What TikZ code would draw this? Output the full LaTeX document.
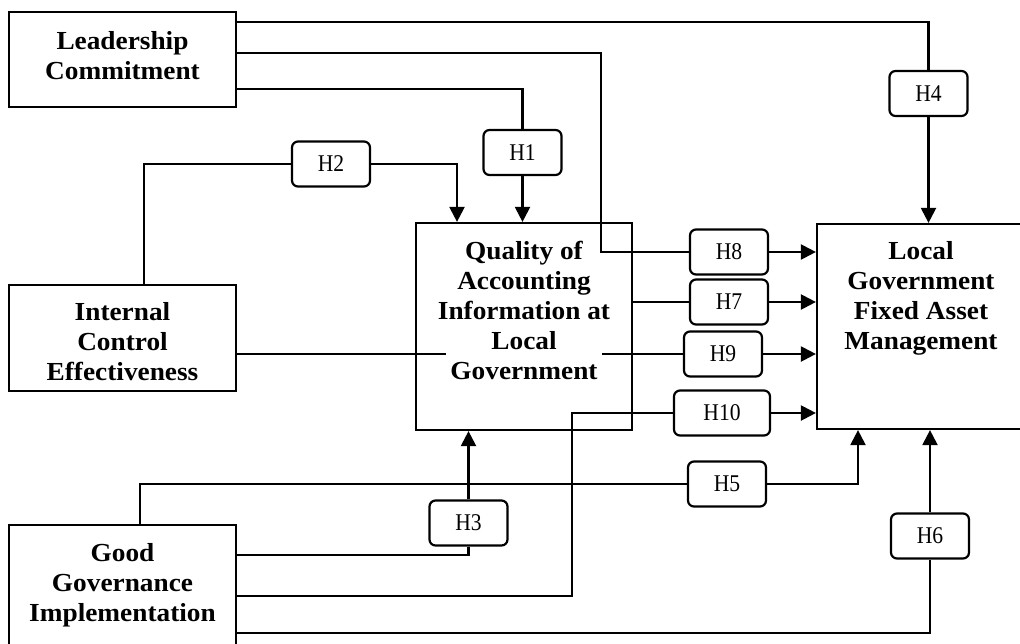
\documentclass[tikz,border=0pt]{standalone}
\usepackage{fontspec}
\setmainfont{Liberation Serif}
\newfontfamily\boxfont[FakeStretch=1.05]{Liberation Serif}
\newfontfamily\hypfont[FakeStretch=0.9]{Liberation Serif}
\usetikzlibrary{arrows.meta}
\begin{document}
\begin{tikzpicture}[x=1pt,y=-1pt,line width=2.2pt,
  varbox/.style={draw,inner sep=0pt},
  vartext/.style={align=center,inner sep=0pt,font=\boxfont\bfseries\fontsize{26}{30}\selectfont},
  hyp/.style={draw,rounded corners=6pt,minimum width=78pt,minimum height=45pt,inner sep=0pt,
    font=\hypfont\fontsize{24}{28}\selectfont},
  arr/.style={-{Triangle[length=15pt,width=15pt]}}]
  \useasboundingbox (0,0) rectangle (1020,643);
  % variables
  \node[varbox,minimum width=227pt,minimum height=95pt] (lead) at (122.5,59.5) {};
  \node[vartext,anchor=north] (leadtxt) at (122.5,30) {Leadership\\Commitment};
  \node[varbox,minimum width=227pt,minimum height=106pt] (ice) at (122.5,338) {};
  \node[vartext,anchor=north] (icetxt) at (122.5,301) {Internal\\Control\\Effectiveness};
  \node[varbox,minimum width=227pt,minimum height=135pt] (gg) at (122.5,592.5) {};
  \node[vartext,anchor=north] (ggtxt) at (122.5,542) {Good\\Governance\\Implementation};
  \node[varbox,minimum width=216pt,minimum height=207pt] (qual) at (524,326.5) {};
  \node[vartext,anchor=north] (qualtxt) at (524,240) {Quality of\\Accounting\\Information at\\Local\\Government};
  \node[varbox,minimum width=208pt,minimum height=205pt] (rfa) at (921,326.5) {};
  \node[vartext,anchor=north] (rfatxt) at (921,240) {Local\\Government\\Fixed Asset\\Management};
  % hypotheses
  \node[hyp] (h1) at (522.5,152.5) {H1};
  \node[hyp] (h2) at (331,164) {H2};
  \node[hyp] (h3) at (468.5,523) {H3};
  \node[hyp] (h4) at (928.5,93.5) {H4};
  \node[hyp] (h5) at (727,484) {H5};
  \node[hyp] (h6) at (930,536) {H6};
  \node[hyp] (h7) at (729,302) {H7};
  \node[hyp] (h8) at (729,252) {H8};
  \node[hyp] (h9) at (723,354) {H9};
  \node[hyp,minimum width=96pt] (h10) at (722,413) {H10};
  \coordinate (c8) at (601,0);
  \coordinate (c9) at (602,354);
  \coordinate (c10) at (572,0);
  % paths
  \draw ([yshift=-11pt]lead.north east) -| (h4.north);
  \draw[arr] (h4.south) -- (h4.south |- rfa.north);
  \draw ([yshift=-42pt]lead.north east) -| (c8 |- h8.west) -- (h8.west);
  \draw[arr] (h8.east) -- (h8.east -| rfa.west);
  \draw ([yshift=-78pt]lead.north east) -| (h1.north);
  \draw[arr] (h1.south) -- (h1.south |- qual.north);
  \draw ([xshift=21.5pt]ice.north) |- (h2.west);
  \draw[arr] (h2.east) -| ([xshift=-67pt]qual.north);
  \draw ([yshift=-16pt]ice.east) -- ++(209,0);
  \draw (qual.east |- h7.west) -- (h7.west);
  \draw[arr] (h7.east) -- (h7.east -| rfa.west);
  \draw (c9) -- (h9.west);
  \draw[arr] (h9.east) -- (h9.east -| rfa.west);
  \draw ([yshift=-72pt]gg.north east) -| (c10 |- h10.west) -- (h10.west);
  \draw[arr] (h10.east) -- (h10.east -| rfa.west);
  \draw ([yshift=-31pt]gg.north east) -| (h3.south);
  \draw[arr] (h3.north) -- (h3.north |- qual.south);
  \draw ([xshift=17.5pt]gg.north) |- (h5.west);
  \draw[arr] (h5.east) -| ([xshift=-63pt]rfa.south);
  \draw ([yshift=-109pt]gg.north east) -| (h6.south);
  \draw[arr] (h6.north) -- (h6.north |- rfa.south);
\end{tikzpicture}
\end{document}
